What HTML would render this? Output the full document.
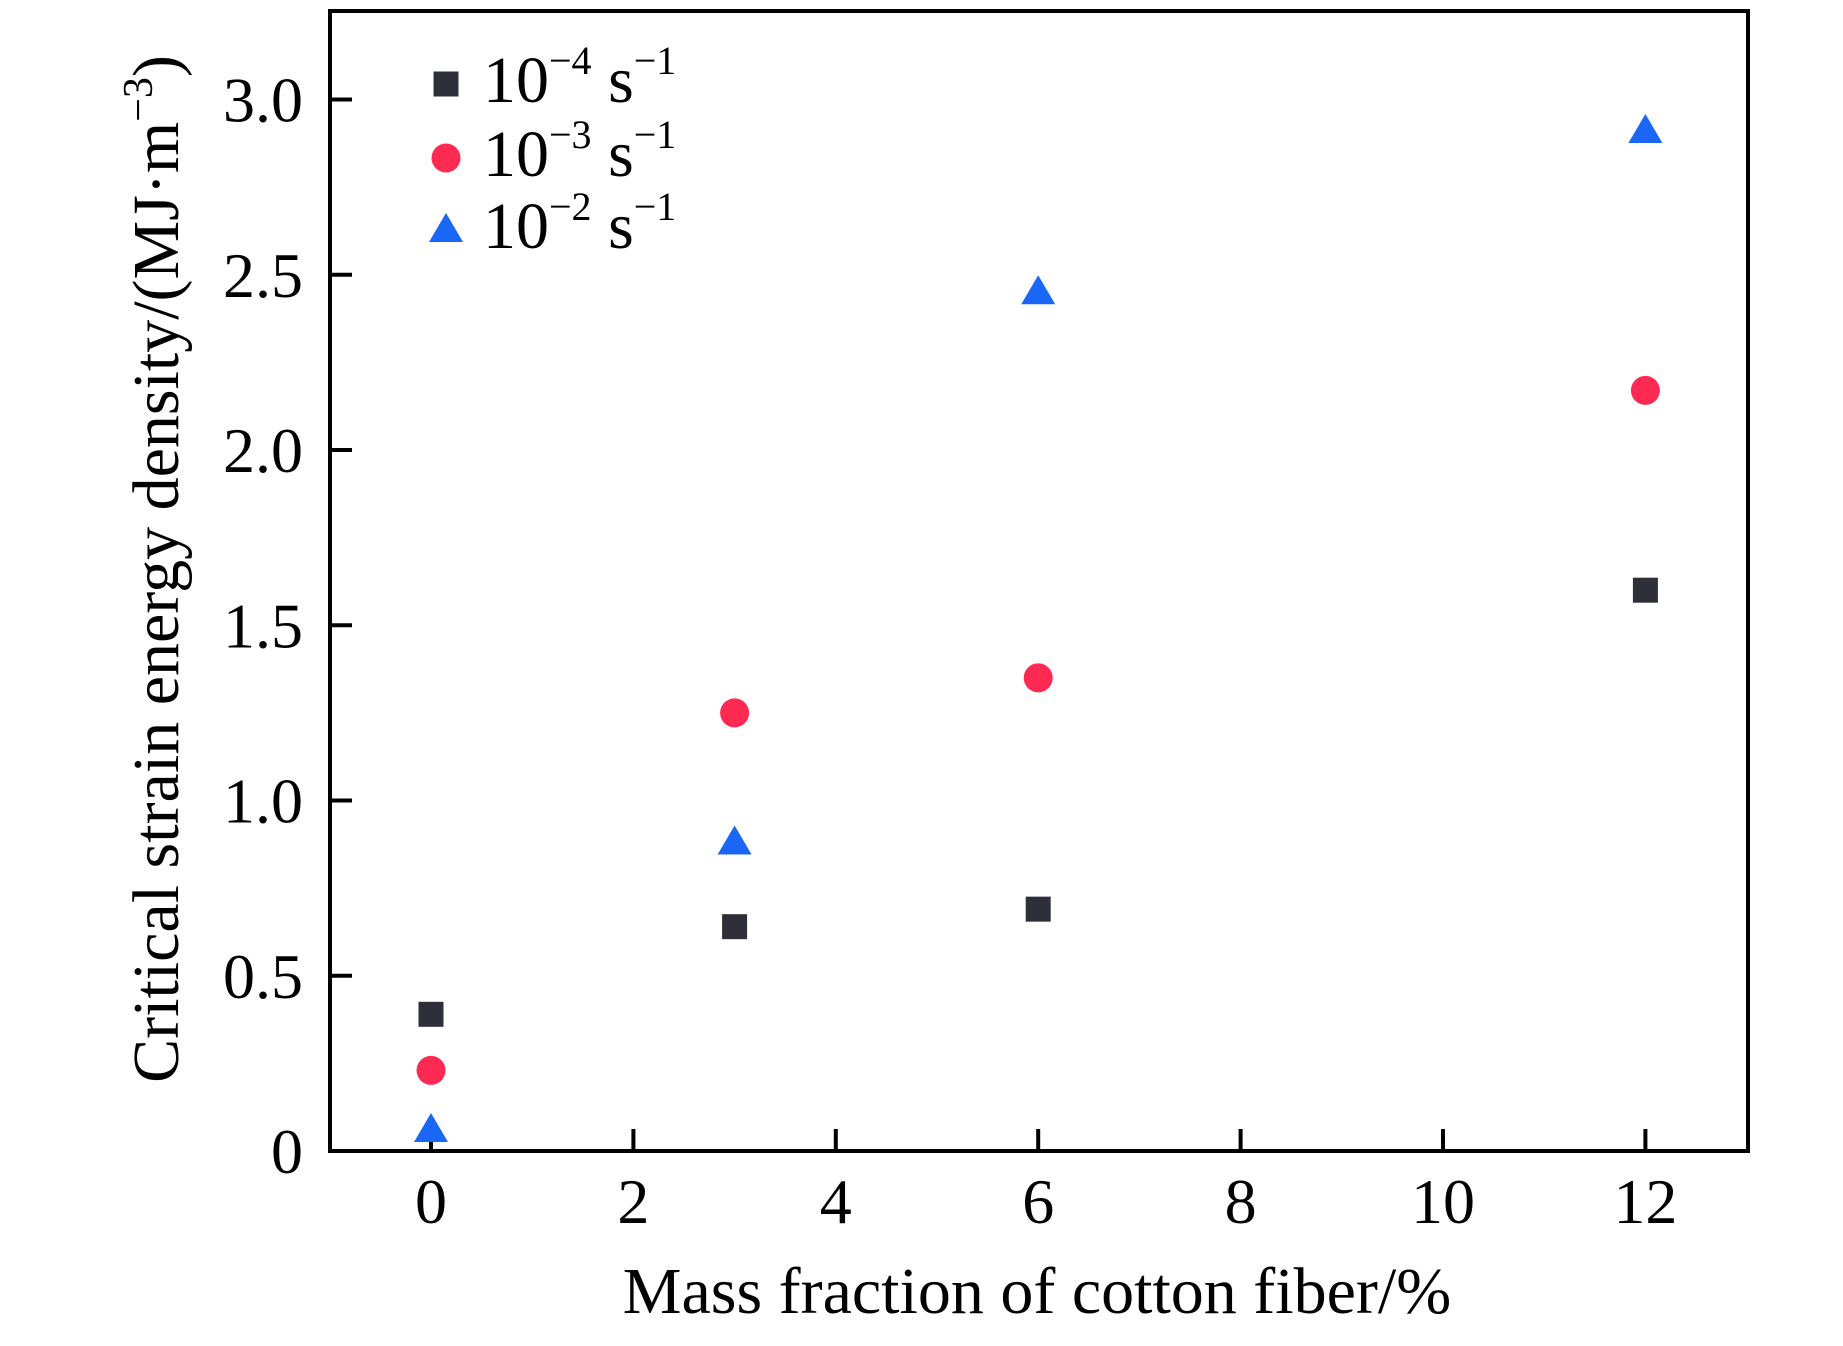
<!DOCTYPE html>
<html><head><meta charset="utf-8"><style>
html,body{margin:0;padding:0;background:#fff;}
svg{display:block;font-family:"Liberation Serif",serif;}
</style></head><body>
<svg id="chart" width="1843" height="1346" viewBox="0 0 1843 1346">
<g id="axes"></g>
<g id="marks"></g>
<g id="legend"></g>
<text x="1037" y="1313" font-size="66" text-anchor="middle">Mass fraction of cotton fiber/%</text>
<text transform="translate(178,569) rotate(-90)" font-size="66" text-anchor="middle">Critical strain energy density/(MJ·m<tspan dy="-26" font-size="42">−3</tspan><tspan dy="26">)</tspan></text>
</svg>
<script>
const xCats = [0, 3, 6, 12];
const seriesLow = [0.39, 0.64, 0.69, 1.60];
const seriesMid = [0.23, 1.25, 1.35, 2.17];
const seriesHigh = [0.06, 0.88, 2.45, 2.91];
const xTicks = [0, 2, 4, 6, 8, 10, 12];
const yTicks = [0, 0.5, 1.0, 1.5, 2.0, 2.5, 3.0];
const yTickLabels = ["0", "0.5", "1.0", "1.5", "2.0", "2.5", "3.0"];
const legendLabels = ["−4", "−3", "−2"];

const NS = "http://www.w3.org/2000/svg";
const L = 330, R = 1748, T = 11, B = 1151;
function xs(v){ return 431 + v * 101.2; }
function ys(v){ return 1151 - v * 350.5; }
function mk(tag, attrs, parent){
  const e = document.createElementNS(NS, tag);
  for (const k in attrs) e.setAttribute(k, attrs[k]);
  parent.appendChild(e);
  return e;
}
const axes = document.getElementById('axes');
const frame = mk('rect', {x:L, y:T, width:R-L, height:B-T, fill:'none', stroke:'#000', 'stroke-width':4}, axes);


xTicks.forEach(t => {
  const ln = mk('line', {x1:xs(t), x2:xs(t), y1:B, y2:B-22, stroke:'#000', 'stroke-width':4}, axes);
  
  
  const tx = mk('text', {x:xs(t), y:1223, 'font-size':64, 'text-anchor':'middle'}, axes);
  tx.textContent = String(t);
  
  
});
yTicks.forEach((t, i) => {
  const ln = mk('line', {x1:L, x2:L+22, y1:ys(t), y2:ys(t), stroke:'#000', 'stroke-width':4}, axes);
  
  
  const tx = mk('text', {x:303, y:ys(t)+22, 'font-size':64, 'text-anchor':'end'}, axes);
  tx.textContent = yTickLabels[i];
  
  
});
const marks = document.getElementById('marks');
function square(cx, cy, p){ return mk('rect', {x:cx-12.5, y:cy-12.5, width:25, height:25, fill:'#2f2f3a'}, p); }
function circle(cx, cy, p){ return mk('circle', {cx:cx, cy:cy, r:14.5, fill:'#ff2a52'}, p); }
function tri(cx, cy, p){ return mk('polygon', {points:`${cx},${cy-17} ${cx-17},${cy+12} ${cx+17},${cy+12}`, fill:'#1a66f5'}, p); }
xCats.forEach((c, i) => {
  const a = square(xs(c), ys(seriesLow[i]), marks);
  
  
  const b = circle(xs(c), ys(seriesMid[i]), marks);
  
  
  const d = tri(xs(c), ys(seriesHigh[i]), marks);
  
  
});
const legend = document.getElementById('legend');
const rowY = [84, 158, 230];
const fns = [square, circle, tri];
legendLabels.forEach((lab, i) => {
  const m = fns[i](446, rowY[i], legend);
  
  
  const tx = mk('text', {x:483, y:rowY[i]+18, 'font-size':66}, legend);
  
  
  tx.innerHTML = `10<tspan dy="-28" font-size="40">${lab}</tspan><tspan dy="28"> s</tspan><tspan dy="-28" font-size="40">−1</tspan>`;
});
</script>
</body></html>
